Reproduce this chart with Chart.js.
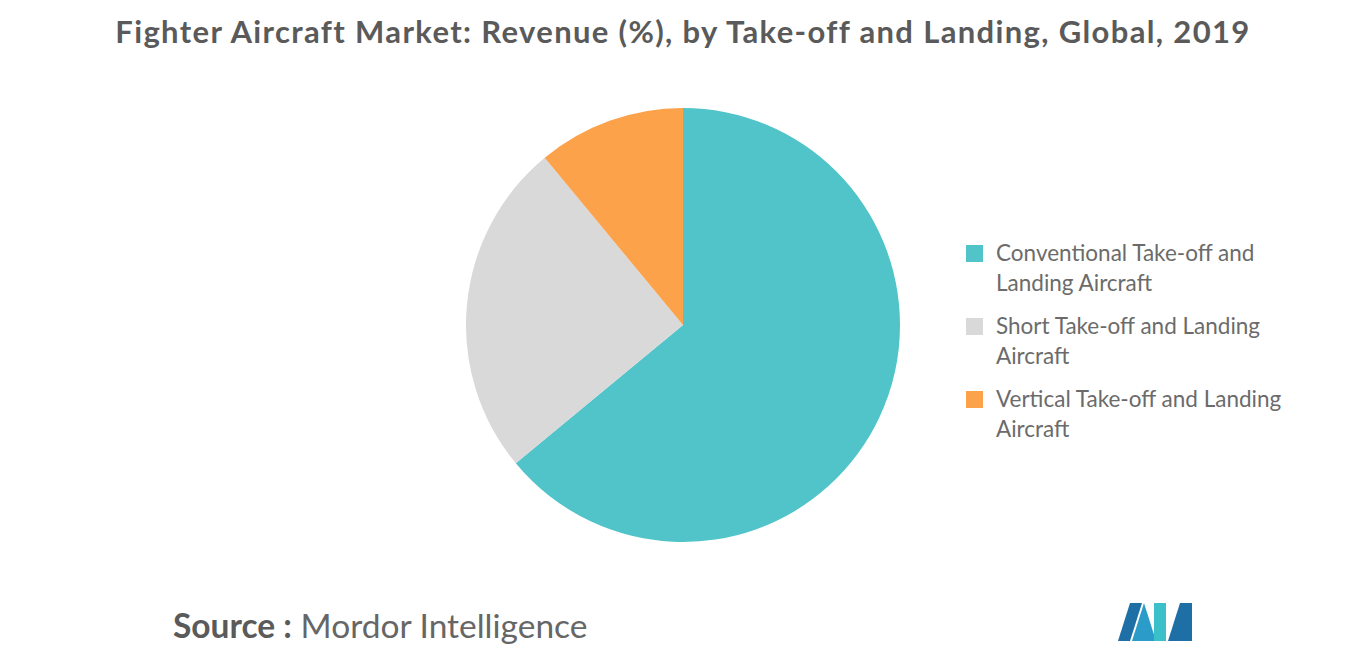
<!DOCTYPE html>
<html><head><meta charset="utf-8">
<script src="https://cdn.jsdelivr.net/npm/chart.js@4"></script>
<style>
body{margin:0;width:1366px;height:655px;background:#fff;font-family:Lato,"Open Sans",sans-serif;position:relative;overflow:hidden}
#title{position:absolute;top:12px;left:0;width:1366px;text-align:center;font-size:31px;letter-spacing:1.35px;font-weight:bold;color:#5a5a5a}
#wrap{position:absolute;left:463px;top:105px;width:440px;height:440px}
#legend{position:absolute;left:966px;top:238px;width:340px}
.item{display:flex;margin-bottom:13px;font-size:22.5px;color:#6b6b6b;line-height:30px}
.box{width:17px;height:17px;margin-top:7px;margin-right:13px;flex:none}
#source{position:absolute;left:173px;top:605px;font-size:33.5px;color:#666}
#source b{font-weight:bold;color:#5a5a5a}
</style></head><body>
<div id="title">Fighter Aircraft Market: Revenue (%), by Take-off and Landing, Global, 2019</div>
<div id="wrap"><canvas id="c"></canvas></div>
<div id="legend"></div>
<div id="source"><b>Source :</b> Mordor Intelligence</div>
<svg style="position:absolute;left:1118px;top:603px" width="74" height="38">
<polygon points="0,38 12,0 24,0 12,38" fill="#1d6fa5"/>
<polygon points="14,38 26,0 38,38" fill="#2b9bc9"/>
<polygon points="36,0 48,0 48,38 36,38" fill="#3bbfc8"/>
<polygon points="50,38 62,0 74,0 74,38" fill="#1d6fa5"/>
</svg>
<script>
const categories=["Conventional Take-off and Landing Aircraft","Short Take-off and Landing Aircraft","Vertical Take-off and Landing Aircraft"];
const values=[64,25,11];
const colors=["#50c4c9","#d9d9d9","#fba24b"];
new Chart(document.getElementById('c'),{type:'pie',
data:{labels:categories,datasets:[{data:values,backgroundColor:colors,borderWidth:0}]},
options:{responsive:true,maintainAspectRatio:false,animation:false,layout:{padding:3},
plugins:{legend:{display:false},tooltip:{enabled:false}}}});
const lg=document.getElementById('legend');
categories.forEach((c,i)=>{lg.innerHTML+=`<div class="item"><div class="box" style="background:${colors[i]}"></div><div>${c}</div></div>`;});
</script></body></html>
